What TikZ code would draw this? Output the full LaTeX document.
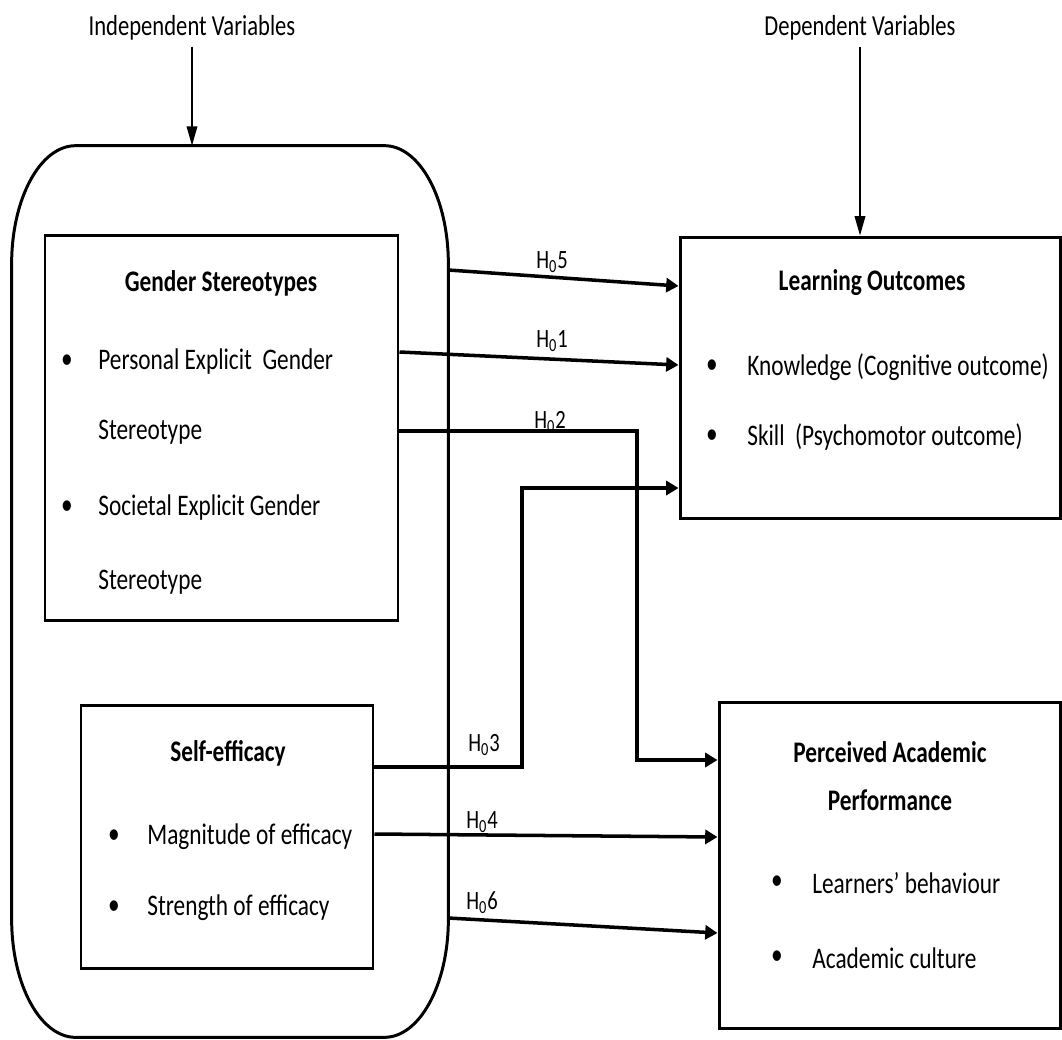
\documentclass[tikz,border=0pt]{standalone}
\usepackage{fontspec}
\setmainfont{Carlito}[FakeStretch=0.78]
\usepackage{tikz}
\usetikzlibrary{calc}
\usetikzlibrary{arrows.meta}
\usetikzlibrary{fit}

\begin{document}
\begin{tikzpicture}[x=0.02cm,y=-0.02cm]
    \tikzstyle{box}=[draw,line width=1.7pt,inner sep=0pt]
    \tikzstyle{hidden box}=[inner sep=0pt]
    \tikzstyle{outline}=[line width=1.7pt,color=black]
    \tikzstyle{pointer}=[-{Triangle[length=11pt,width=6pt]},line width=1pt,color=black]
    \tikzstyle{relation}=[-{Triangle[length=7pt,width=8pt]},line width=2pt,color=black]
    \tikzstyle{heading}=[font=\fontsize{16.5}{20}\selectfont]
    \tikzstyle{title}=[align=center,font=\fontsize{17}{27}\selectfont\bfseries]
    \tikzstyle{item}=[anchor=west,inner sep=0pt,font=\fontsize{17}{20}\selectfont]
    \tikzstyle{dot}=[inner sep=0pt,font=\fontsize{17}{20}\selectfont]
    \tikzstyle{hypothesis}=[inner sep=1pt,font=\fontsize{15}{18}\selectfont]

    \useasboundingbox (0,0) rectangle (1062,1039);

    % Boxes
    \node[style=hidden box,fit={(12,146) (448,1037)}] (indep) {};
    \node[style=box,fit={(45,235) (398,620)}] (gender) {};
    \node[style=box,fit={(81,705) (373,968)}] (selfeff) {};
    \node[style=box,fit={(680,237) (1060,518)}] (learn) {};
    \node[style=box,fit={(719,702) (1060,1028)}] (perf) {};

    % Rounded frame around the independent variables
    \draw[style=outline] ($(indep.north west)+(64,0)$) -- ($(indep.north east)+(-64,0)$)
        arc[start angle=90,end angle=0,x radius=1.28cm,y radius=2.36cm]
        -- ($(indep.south east)+(0,-118)$)
        arc[start angle=0,end angle=-90,x radius=1.28cm,y radius=2.36cm]
        -- ($(indep.south west)+(64,0)$)
        arc[start angle=-90,end angle=-180,x radius=1.28cm,y radius=2.36cm]
        -- ($(indep.north west)+(0,118)$)
        arc[start angle=180,end angle=90,x radius=1.28cm,y radius=2.36cm] -- cycle;

    % Headings
    \node[style=heading] (iv) at (192,28) {Independent Variables};
    \node[style=heading] (dv) at (860,28) {Dependent Variables};
    \draw[style=pointer] (iv.south) -- (iv.south |- indep.north);
    \draw[style=pointer] (dv.south) -- (dv.south |- learn.north);

    % Gender stereotypes
    \node[style=title] (gtitle) at (221,283) {Gender Stereotypes};
    \node[style=dot] (gdot1) at (67,362) {\textbullet};
    \node[style=item] (gitem1) at (98,362) {Personal Explicit\ \ Gender};
    \node[style=item] (gitem2) at (98,432) {Stereotype};
    \node[style=dot] (gdot2) at (67,508) {\textbullet};
    \node[style=item] (gitem3) at (98,508) {Societal Explicit Gender};
    \node[style=item] (gitem4) at (98,582) {Stereotype};

    % Self-efficacy
    \node[style=title] (stitle) at (228,753) {Self-efficacy};
    \node[style=dot] (sdot1) at (114,837) {\textbullet};
    \node[style=item] (sitem1) at (147,837) {Magnitude of efficacy};
    \node[style=dot] (sdot2) at (114,908) {\textbullet};
    \node[style=item] (sitem2) at (147,908) {Strength of efficacy};

    % Learning outcomes
    \node[style=title] (ltitle) at (872,283) {Learning Outcomes};
    \node[style=dot] (ldot1) at (712,367) {\textbullet};
    \node[style=item] (litem1) at (747,367) {Knowledge (Cognitive outcome)};
    \node[style=dot] (ldot2) at (712,437) {\textbullet};
    \node[style=item] (litem2) at (747,437) {Skill\ \ (Psychomotor outcome)};

    % Perceived academic performance
    \node[style=title] (ptitle) at (890,776) {Perceived Academic\\Performance};
    \node[style=dot] (pdot1) at (777,883) {\textbullet};
    \node[style=item] (pitem1) at (812,883) {Learners’ behaviour};
    \node[style=dot] (pdot2) at (777,958) {\textbullet};
    \node[style=item] (pitem2) at (812,958) {Academic culture};

    % Hypotheses
    \draw[style=relation] (indep.east |- 0,270) -- (learn.west |- 0,286);
    \draw[style=relation] (gender.east |- 0,352) -- (learn.west |- 0,365);
    \draw[style=relation] (gender.east |- 0,431) -- (637,431) -- (637,760) -- (perf.west |- 0,760);
    \draw[style=relation] (selfeff.east |- 0,767) -- (522,767) -- (522,488) -- (learn.west |- 0,488);
    \draw[style=relation] (selfeff.east |- 0,834) -- (perf.west |- 0,837);
    \draw[style=relation] (indep.east |- 0,918) -- (perf.west |- 0,933);

    \node[style=hypothesis] (h5) at (552,262) {H\textsubscript{0}5};
    \node[style=hypothesis] (h1) at (552,341) {H\textsubscript{0}1};
    \node[style=hypothesis] (h2) at (550,422) {H\textsubscript{0}2};
    \node[style=hypothesis] (h3) at (484,745) {H\textsubscript{0}3};
    \node[style=hypothesis] (h4) at (482,822) {H\textsubscript{0}4};
    \node[style=hypothesis] (h6) at (482,903) {H\textsubscript{0}6};

\end{tikzpicture}
\end{document}
